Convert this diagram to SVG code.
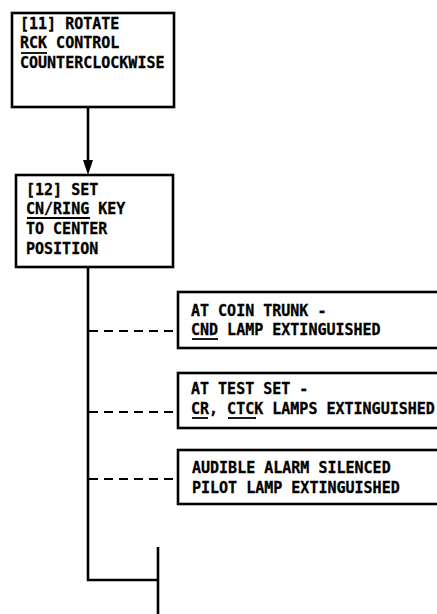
<svg xmlns="http://www.w3.org/2000/svg" width="437" height="614" viewBox="0 0 437 614">
<style>
.box{fill:#fff;stroke:#000;stroke-width:2.6}
.t{font-family:"DejaVu Sans Mono","Liberation Mono",monospace;font-weight:bold;font-size:15px;fill:#000;stroke:#000;stroke-width:0.3}
.ul{stroke:#000;stroke-width:1.8}
.ln{fill:none;stroke:#000;stroke-width:2.6}
.dash{fill:none;stroke:#000;stroke-width:2.2;stroke-dasharray:9 6}
</style>
<rect width="437" height="614" fill="#fff"/>
<g id="connectors">
<line class="ln" x1="88" y1="107" x2="88" y2="162"/>
<path d="M83,160 L93,160 L88,175 Z" fill="#000"/>
<polyline class="ln" points="88,267 88,580 158,580"/>
<line class="ln" x1="158" y1="547" x2="158" y2="614"/>
<line class="dash" x1="89" y1="331" x2="178" y2="331"/>
<line class="dash" x1="89" y1="412" x2="178" y2="412"/>
<line class="dash" x1="89" y1="479" x2="178" y2="479"/>
</g>
<g id="node11">
<rect class="box" x="12" y="13" width="162" height="94"/>
<text class="t" x="20" y="29">[11] ROTATE</text>
<text class="t" x="20" y="48">RCK CONTROL</text>
<line class="ul" x1="21" y1="53" x2="47" y2="53"/>
<text class="t" x="20" y="68">COUNTERCLOCKWISE</text>
</g>
<g id="node12">
<rect class="box" x="16" y="175" width="157" height="92"/>
<text class="t" x="26" y="195">[12] SET</text>
<text class="t" x="26" y="214">CN/RING KEY</text>
<line class="ul" x1="27" y1="218" x2="90" y2="218"/>
<text class="t" x="26" y="234">TO CENTER</text>
<text class="t" x="26" y="254">POSITION</text>
</g>
<g id="coin-trunk">
<rect class="box" x="178" y="292" width="270" height="56"/>
<text class="t" x="191" y="316">AT COIN TRUNK -</text>
<text class="t" x="191" y="335">CND LAMP EXTINGUISHED</text>
<line class="ul" x1="192" y1="339" x2="218" y2="339"/>
</g>
<g id="test-set">
<rect class="box" x="178" y="373" width="270" height="55"/>
<text class="t" x="191" y="394">AT TEST SET -</text>
<text class="t" x="191" y="414">CR, CTCK LAMPS EXTINGUISHED</text>
<line class="ul" x1="192" y1="418" x2="208" y2="418"/>
<line class="ul" x1="228" y1="418" x2="256" y2="418"/>
</g>
<g id="alarm">
<rect class="box" x="178" y="450" width="270" height="54"/>
<text class="t" x="192" y="473">AUDIBLE ALARM SILENCED</text>
<text class="t" x="192" y="493">PILOT LAMP EXTINGUISHED</text>
</g>
</svg>
